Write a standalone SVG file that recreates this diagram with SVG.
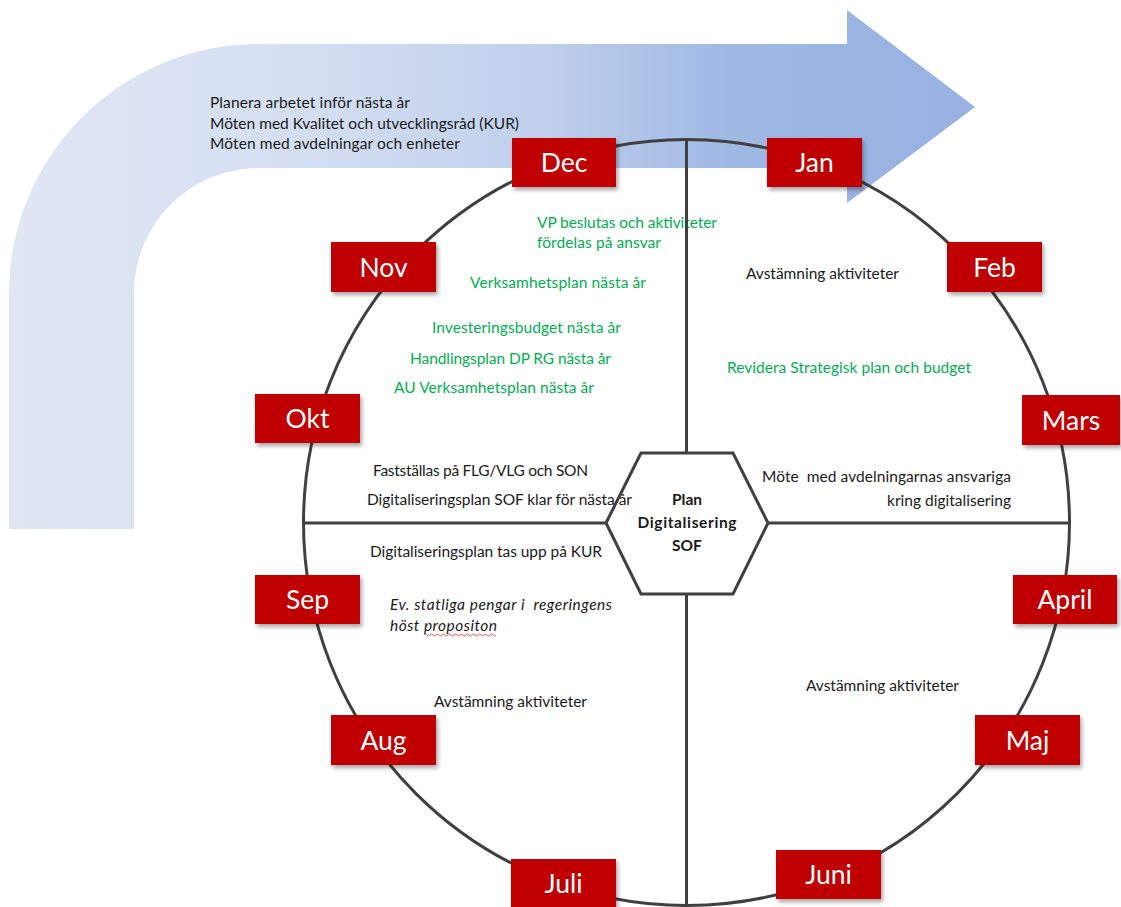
<svg xmlns="http://www.w3.org/2000/svg" width="1121" height="907" viewBox="0 0 1121 907">
  <defs>
    <linearGradient id="arrowGrad" gradientUnits="userSpaceOnUse" x1="9" y1="0" x2="975" y2="0">
      <stop offset="0" stop-color="#E0E6F4"/>
      <stop offset="0.3" stop-color="#D5DFF2"/>
      <stop offset="0.55" stop-color="#C0D0EC"/>
      <stop offset="0.75" stop-color="#9FB8E4"/>
      <stop offset="1" stop-color="#97B2E1"/>
    </linearGradient>
    <filter id="shadow" x="-20%" y="-20%" width="150%" height="160%">
      <feDropShadow dx="2" dy="3" stdDeviation="2" flood-color="#000" flood-opacity="0.35"/>
    </filter>
    <style>
      .box { fill: #C00000; filter: url(#shadow); }
      .month { font-family: Lato, "Noto Sans", sans-serif; font-size: 26.5px; fill: #FFFFFF; text-anchor: middle; }
      .t { font-family: Lato, "Noto Sans", sans-serif; font-size: 15.5px; fill: #1A1A1A; }
      .g { font-family: Lato, "Noto Sans", sans-serif; font-size: 15.5px; fill: #00B050; }
      .i { font-style: italic; }
      .hex { font-family: Lato, "Noto Sans", sans-serif; font-size: 15.5px; font-weight: bold; fill: #1A1A1A; text-anchor: middle; }
      .ln { fill: none; stroke: #404040; stroke-width: 3; }
    </style>
  </defs>

  <g id="arrow">
    <path d="M 9 529 L 9 293 A 250 249 0 0 1 259 44 L 847 44 L 847 10 L 975 107 L 847 203 L 847 168 L 259 168 A 125 125 0 0 0 134 293 L 134 529 Z" fill="url(#arrowGrad)"/>
  </g>

  <g id="texts">
    <text class="t" x="210" y="108" textLength="200">Planera arbetet inför nästa år</text>
    <text class="t" x="210" y="129" textLength="309">Möten med Kvalitet och utvecklingsråd (KUR)</text>
    <text class="t" x="210" y="149" textLength="250">Möten med avdelningar och enheter</text>

    <text class="g" x="537" y="228" textLength="180">VP beslutas och aktiviteter</text>
    <text class="g" x="537" y="248" textLength="124">fördelas på ansvar</text>
    <text class="g" x="470" y="288" textLength="176">Verksamhetsplan nästa år</text>
    <text class="g" x="432" y="333" textLength="189">Investeringsbudget nästa år</text>
    <text class="g" x="410" y="364" textLength="201">Handlingsplan DP RG nästa år</text>
    <text class="g" x="394" y="393" textLength="200">AU Verksamhetsplan nästa år</text>
    <text class="g" x="727" y="373" textLength="244">Revidera Strategisk plan och budget</text>

    <text class="t" x="746" y="279" textLength="153">Avstämning aktiviteter</text>
    <text class="t" x="373" y="476" textLength="215">Fastställas på FLG/VLG och SON</text>
    <text class="t" x="367" y="505" textLength="265">Digitaliseringsplan SOF klar för nästa år</text>
    <text class="t" x="370" y="557" textLength="232">Digitaliseringsplan tas upp på KUR</text>
    <text class="t" x="762" y="482" textLength="249" xml:space="preserve">Möte  med avdelningarnas ansvariga</text>
    <text class="t" x="887" y="506" textLength="124">kring digitalisering</text>
    <text class="t i" x="390" y="610" textLength="222" xml:space="preserve">Ev. statliga pengar i  regeringens</text>
    <text class="t i" x="390" y="631" textLength="107">höst propositon</text>
    <path d="M 424 635 q 1.5 -2 3 0 t 3 0 t 3 0 t 3 0 t 3 0 t 3 0 t 3 0 t 3 0 t 3 0 t 3 0 t 3 0 t 3 0 t 3 0 t 3 0 t 3 0 t 3 0 t 3 0 t 3 0 t 3 0 t 3 0 t 3 0 t 3 0 t 3 0 t 3 0" fill="none" stroke="#E03030" stroke-width="0.8"/>
    <text class="t" x="434" y="707" textLength="153">Avstämning aktiviteter</text>
    <text class="t" x="806" y="691" textLength="153">Avstämning aktiviteter</text>
  </g>

  <g id="connectors">
    <circle class="ln" cx="686.5" cy="522.5" r="383"/>
    <line class="ln" x1="686.5" y1="140" x2="686.5" y2="453"/>
    <line class="ln" x1="686.5" y1="594" x2="686.5" y2="906"/>
    <line class="ln" x1="303" y1="523" x2="606" y2="523"/>
    <line class="ln" x1="768" y1="523" x2="1070" y2="523"/>
  </g>

  <g id="center">
    <polygon class="ln" points="606,523 641,453 733,453 768,523 733,594 641,594"/>
    <text class="hex" x="687" y="505">Plan</text>
    <text class="hex" x="687" y="528" textLength="99">Digitalisering</text>
    <text class="hex" x="687" y="551">SOF</text>
  </g>

  <g id="dec"><rect class="box" x="512" y="138" width="104" height="49"/><text class="month" x="564" y="172">Dec</text></g>
  <g id="jan"><rect class="box" x="767" y="138" width="95" height="49"/><text class="month" x="814.5" y="172">Jan</text></g>
  <g id="nov"><rect class="box" x="331" y="242" width="105" height="50"/><text class="month" x="383.5" y="277">Nov</text></g>
  <g id="feb"><rect class="box" x="947" y="242" width="95" height="50"/><text class="month" x="994.5" y="277">Feb</text></g>
  <g id="okt"><rect class="box" x="255" y="394" width="105" height="49"/><text class="month" x="307.5" y="428">Okt</text></g>
  <g id="mars"><rect class="box" x="1022" y="395" width="98" height="50"/><text class="month" x="1071" y="430">Mars</text></g>
  <g id="sep"><rect class="box" x="255" y="575" width="105" height="49"/><text class="month" x="307.5" y="609">Sep</text></g>
  <g id="april"><rect class="box" x="1013" y="575" width="104" height="49"/><text class="month" x="1065" y="609">April</text></g>
  <g id="aug"><rect class="box" x="331" y="715" width="105" height="50"/><text class="month" x="383.5" y="750">Aug</text></g>
  <g id="maj"><rect class="box" x="975" y="715" width="105" height="50"/><text class="month" x="1027.5" y="750">Maj</text></g>
  <g id="juli"><rect class="box" x="511" y="859" width="105" height="49"/><text class="month" x="563.5" y="893">Juli</text></g>
  <g id="juni"><rect class="box" x="776" y="850" width="105" height="49"/><text class="month" x="828.5" y="884">Juni</text></g>
</svg>
